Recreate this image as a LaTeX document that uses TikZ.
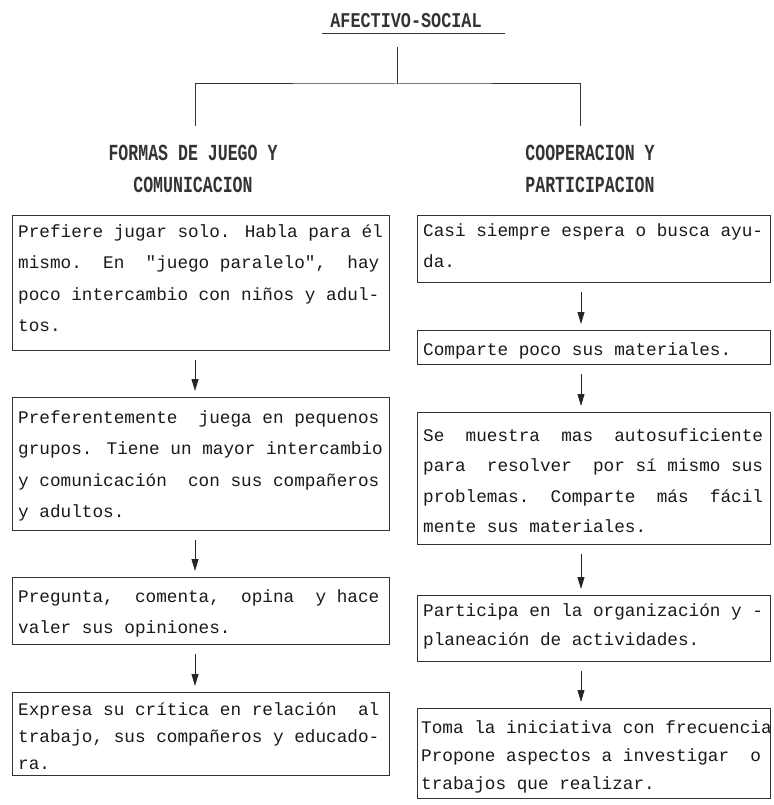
\documentclass[tikz,border=0pt]{standalone}
\usepackage{fontspec}
\usepackage{graphicx}
\usetikzlibrary{arrows.meta}
\newfontfamily\typewr{Liberation Mono}

% body text of the boxes: monospaced, widely spaced lines
\newcommand\bodyfont{\typewr\fontsize{17.7}{31.5}\selectfont}
% condensed capitals for the heading levels
\newcommand\headfont{\typewr\bfseries\fontsize{23}{32}\selectfont}
\newcommand\titlefont{\typewr\bfseries\fontsize{21}{28}\selectfont}
\newcommand\narrow[1]{\scalebox{0.72}[1]{#1}}
\newcommand\firstline{\rule{0pt}{16pt}}

\tikzset{
  frame/.style={draw=black!80, line width=1pt, rectangle, inner sep=0pt, anchor=north west},
  lbox/.style={frame, minimum width=377pt},
  rbox/.style={frame, minimum width=353pt},
  boxtext/.style={anchor=north west, inner sep=0pt, align=left, font=\bodyfont, text=black!90},
  heading/.style={anchor=north, inner sep=0pt, align=center, font=\headfont, text=black!80},
  link/.style={draw=black!80, line width=1pt},
  flow/.style={draw=black!85, line width=0.9pt, -{Triangle[width=7pt,length=12pt]},
    shorten <=9pt, shorten >=6pt}
}

\begin{document}
\begin{tikzpicture}[x=1pt,y=-1pt]
\useasboundingbox (0,0) rectangle (773,805);

% ---- top of the tree -------------------------------------------------
\node[anchor=base, inner sep=0pt, font=\titlefont, text=black!80] (root) at (406,28)
  {\scalebox{0.8}[1]{AFECTIVO-SOCIAL}};
\coordinate (ulA) at (322,34);
\coordinate (ulB) at (505,34);
\draw[link] (ulA) -- (ulB);

\node[heading] (hl) at (193,144) {\firstline\narrow{FORMAS DE JUEGO Y}\\\narrow{COMUNICACION}};
\node[heading] (hr) at (590,144) {\firstline\narrow{COOPERACION Y}\\\narrow{PARTICIPACION}};

\coordinate (stem) at (397,47);
\coordinate (fork) at (397,84);
\coordinate (legL) at (195,126);
\coordinate (legR) at (580,126);
\draw[link] (stem) -- (fork);
\draw[link] (legL) |- (fork) -| (legR);

% ---- left column: juego y comunicacion ---------------------------------
\coordinate (colL) at (195,0);
\node[lbox, minimum height=135pt] (L1) at (12,215) {};
\node[boxtext] (L1t) at (18,221) {\firstline Prefiere jugar solo. Habla para él\\
mismo.~~En~~"juego paralelo",~~hay\\
poco intercambio con niños y adul-\\
tos.};

\node[lbox, minimum height=133pt] (L2) at (12,397) {};
\node[boxtext] (L2t) at (18,407) {\firstline Preferentemente~~juega en pequenos\\
grupos. Tiene un mayor intercambio\\
y comunicación~~con sus compañeros\\
y adultos.};

\node[lbox, minimum height=67pt] (L3) at (12,577) {};
\node[boxtext] (L3t) at (18,586) {\firstline Pregunta,~~comenta,~~opina~~y hace\\
valer sus opiniones.};

\node[lbox, minimum height=83pt] (L4) at (12,692) {};
\node[boxtext, font=\typewr\fontsize{17.7}{27}\selectfont] (L4t) at (18,699) {\firstline Expresa su crítica en relación~~al\\
trabajo, sus compañeros y educado-\\
ra.};

\draw[flow] (L1.south -| colL) -- (L2.north -| colL);
\draw[flow] (L2.south -| colL) -- (L3.north -| colL);
\draw[flow] (L3.south -| colL) -- (L4.north -| colL);

% ---- right column: cooperacion y participacion -------------------------
\coordinate (colR) at (581,0);
\node[rbox, minimum height=67pt] (R1) at (417,215) {};
\node[boxtext] (R1t) at (423,220) {\firstline Casi siempre espera o busca ayu-\\
da.};

\node[rbox, minimum height=34pt] (R2) at (417,330) {};
\node[boxtext] (R2t) at (423,339) {\firstline Comparte poco sus materiales.};

\node[rbox, minimum height=132pt] (R3) at (417,412) {};
\node[boxtext, font=\typewr\fontsize{17.7}{30.5}\selectfont] (R3t) at (423,425) {\firstline Se~~muestra~~mas~~autosuficiente\\
para~~resolver~~por sí mismo sus\\
problemas.~~Comparte~~más~~fácil\\
mente sus materiales.};

\node[rbox, minimum height=66pt] (R4) at (417,595) {};
\node[boxtext, font=\typewr\fontsize{17.7}{29}\selectfont] (R4t) at (423,600) {\firstline Participa en la organización y -\\
planeación de actividades.};

\node[rbox, minimum height=90pt] (R5) at (417,708) {};
\node[boxtext, font=\typewr\fontsize{17.7}{28}\selectfont] (R5t) at (421,717) {\firstline Toma la iniciativa con frecuencia\\
Propone aspectos a investigar~~o\\
trabajos que realizar.};

\draw[flow] (R1.south -| colR) -- (R2.north -| colR);
\draw[flow] (R2.south -| colR) -- (R3.north -| colR);
\draw[flow] (R3.south -| colR) -- (R4.north -| colR);
\draw[flow] (R4.south -| colR) -- (R5.north -| colR);
\end{tikzpicture}
\end{document}
